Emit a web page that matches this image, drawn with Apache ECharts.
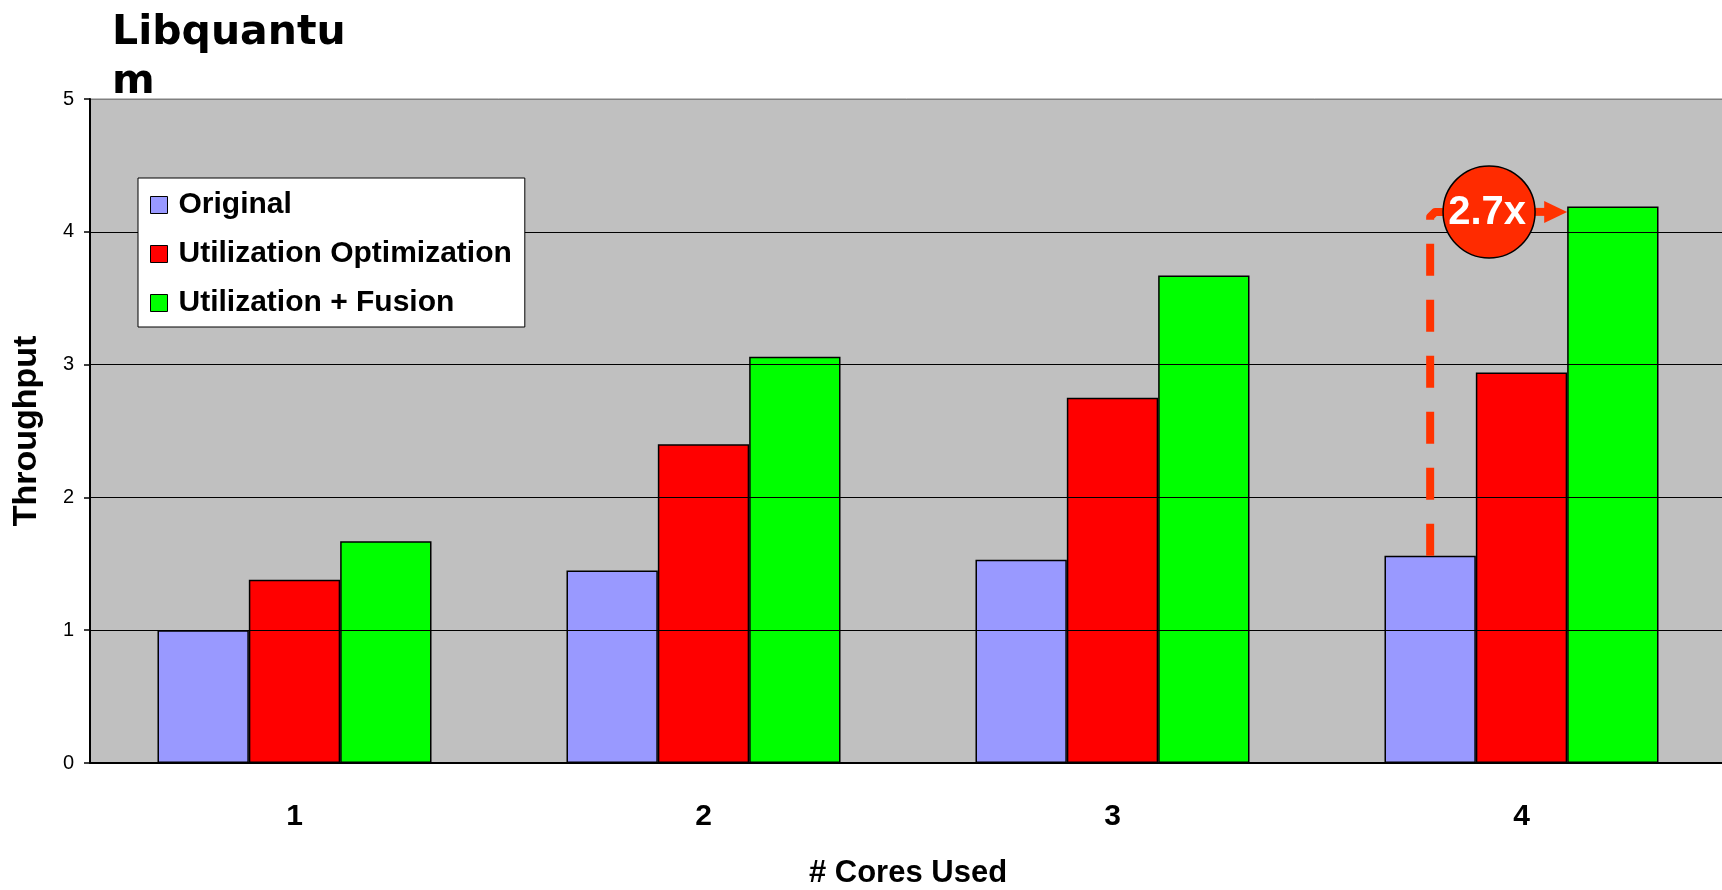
<!DOCTYPE html>
<html>
<head>
<meta charset="utf-8">
<script src="https://cdn.jsdelivr.net/npm/echarts@6/dist/echarts.min.js"></script>
<style>
html,body{margin:0;padding:0;background:#fff;}
#chart{width:1722px;height:890px;}
</style>
</head>
<body>
<div id="chart"></div>
<script>
const categories = ['1', '2', '3', '4'];
const seriesNames = ['Original', 'Utilization Optimization', 'Utilization + Fusion'];
const original = [1.00, 1.45, 1.53, 1.56];
const utilOpt = [1.38, 2.40, 2.75, 2.94];
const utilFusion = [1.67, 3.06, 3.67, 4.19];
const yTicks = [0, 1, 2, 3, 4, 5];
// annotation: [category index, from value (bar top), line value, label]
const annotation = [[3, 1.56, 4.15, '2.7x']];

const colors = ['#9999FF', '#FF0000', '#00FF00'];
const FONT = '"Liberation Sans", Arial, sans-serif';
const CAT_GAP = 0.33;

const chart = echarts.init(document.getElementById('chart'));

function barSeries(name, data, color) {
  return {
    name: name, type: 'bar', data: data,
    barGap: '0%', barCategoryGap: (CAT_GAP * 100) + '%',
    itemStyle: { color: color, borderColor: '#000', borderWidth: 1.5 },
    emphasis: { disabled: true },
    z: 3
  };
}

const option = {
  animation: false,
  title: {
    text: 'Libquantu\nm',
    left: 107, top: 4,
    textStyle: { fontFamily: '"DejaVu Sans", Verdana, sans-serif', fontWeight: 'bold', fontSize: 41, lineHeight: 49, color: '#000' }
  },
  legend: {
    orient: 'vertical',
    left: 138, top: 178,
    data: seriesNames,
    backgroundColor: '#fff', borderColor: '#000', borderWidth: 1,
    padding: [12, 13, 9, 12],
    itemWidth: 17, itemHeight: 17, itemGap: 19,
    icon: 'rect',
    itemStyle: { borderColor: '#000', borderWidth: 1 },
    textStyle: { fontFamily: FONT, fontWeight: 'bold', fontSize: 30, lineHeight: 30, color: '#000', padding: [0, 0, 0, 6] },
    selectedMode: false, z: 10
  },
  grid: {
    left: 90, right: -4, top: 99, bottom: 127,
    outerBoundsMode: 'none', containLabel: false,
    show: true, backgroundColor: '#C0C0C0', borderColor: '#808080', borderWidth: 1
  },
  xAxis: {
    type: 'category', data: categories,
    name: '# Cores Used', nameLocation: 'middle', nameGap: 95,
    nameTextStyle: { fontFamily: FONT, fontWeight: 'bold', fontSize: 31, color: '#000' },
    axisLine: { lineStyle: { color: '#000', width: 2 } },
    axisTick: { length: 10, lineStyle: { color: '#000', width: 1.5 } },
    axisLabel: { fontFamily: FONT, fontWeight: 'bold', fontSize: 30, color: '#000', margin: 39 },
    z: 5
  },
  yAxis: {
    type: 'value', min: yTicks[0], max: yTicks[yTicks.length - 1], interval: 1,
    name: 'Throughput', nameLocation: 'middle', nameGap: 46,
    nameTextStyle: { fontFamily: FONT, fontWeight: 'bold', fontSize: 34, color: '#000' },
    axisLine: { show: true, lineStyle: { color: '#000', width: 2 } },
    axisTick: { show: true, length: 6, lineStyle: { color: '#000', width: 1.5 } },
    axisLabel: { fontFamily: FONT, fontSize: 20, color: '#000', margin: 16 },
    splitLine: { show: true, lineStyle: { color: ['#000', '#000', '#000', '#000', '#000', '#808080'], width: 1.2 } },
    z: 5
  },
  series: [
    barSeries(seriesNames[0], original, colors[0]),
    barSeries(seriesNames[1], utilOpt, colors[1]),
    barSeries(seriesNames[2], utilFusion, colors[2]),
    {
      type: 'custom', name: 'annotation',
      coordinateSystem: 'cartesian2d',
      data: annotation,
      z: 8, silent: true,
      renderItem: function (params, api) {
        const cat = api.value(0);
        const top = api.coord([cat, api.value(2)]);
        const bot = api.coord([cat, api.value(1)]);
        const band = api.size([1, 0])[0];
        const bw = band * (1 - CAT_GAP) / 3;
        const xl = top[0] - bw;          // centre of the first bar
        const xg = top[0] + bw / 2;      // left edge of the third bar
        const y = top[1];
        const r = 46;
        const cx = xl + (xg - xl) * 0.43;
        const lineColor = '#FF3300';
        return {
          type: 'group',
          children: [
            {
              type: 'polyline',
              shape: { points: [[xl, bot[1]], [xl, y + 5], [xl + 5, y], [cx - r + 4, y]] },
              style: { stroke: lineColor, lineWidth: 8, lineDash: [32, 24], fill: null, lineJoin: 'round' }
            },
            {
              type: 'line',
              shape: { x1: cx + r - 4, y1: y, x2: xg - 18, y2: y },
              style: { stroke: lineColor, lineWidth: 8 }
            },
            {
              type: 'polygon',
              shape: { points: [[xg - 23, y - 11], [xg, y], [xg - 23, y + 11]] },
              style: { fill: lineColor }
            },
            {
              type: 'circle',
              shape: { cx: cx, cy: y, r: r },
              style: { fill: '#FF2B00', stroke: '#000', lineWidth: 1.5 }
            },
            {
              type: 'text',
              style: {
                text: api.value(3), x: cx - 2, y: y + 1,
                align: 'center', verticalAlign: 'middle',
                fill: '#fff', font: 'bold 40px "Liberation Sans", Arial, sans-serif'
              }
            }
          ]
        };
      }
    }
  ]
};

chart.setOption(option);
</script>
</body>
</html>
